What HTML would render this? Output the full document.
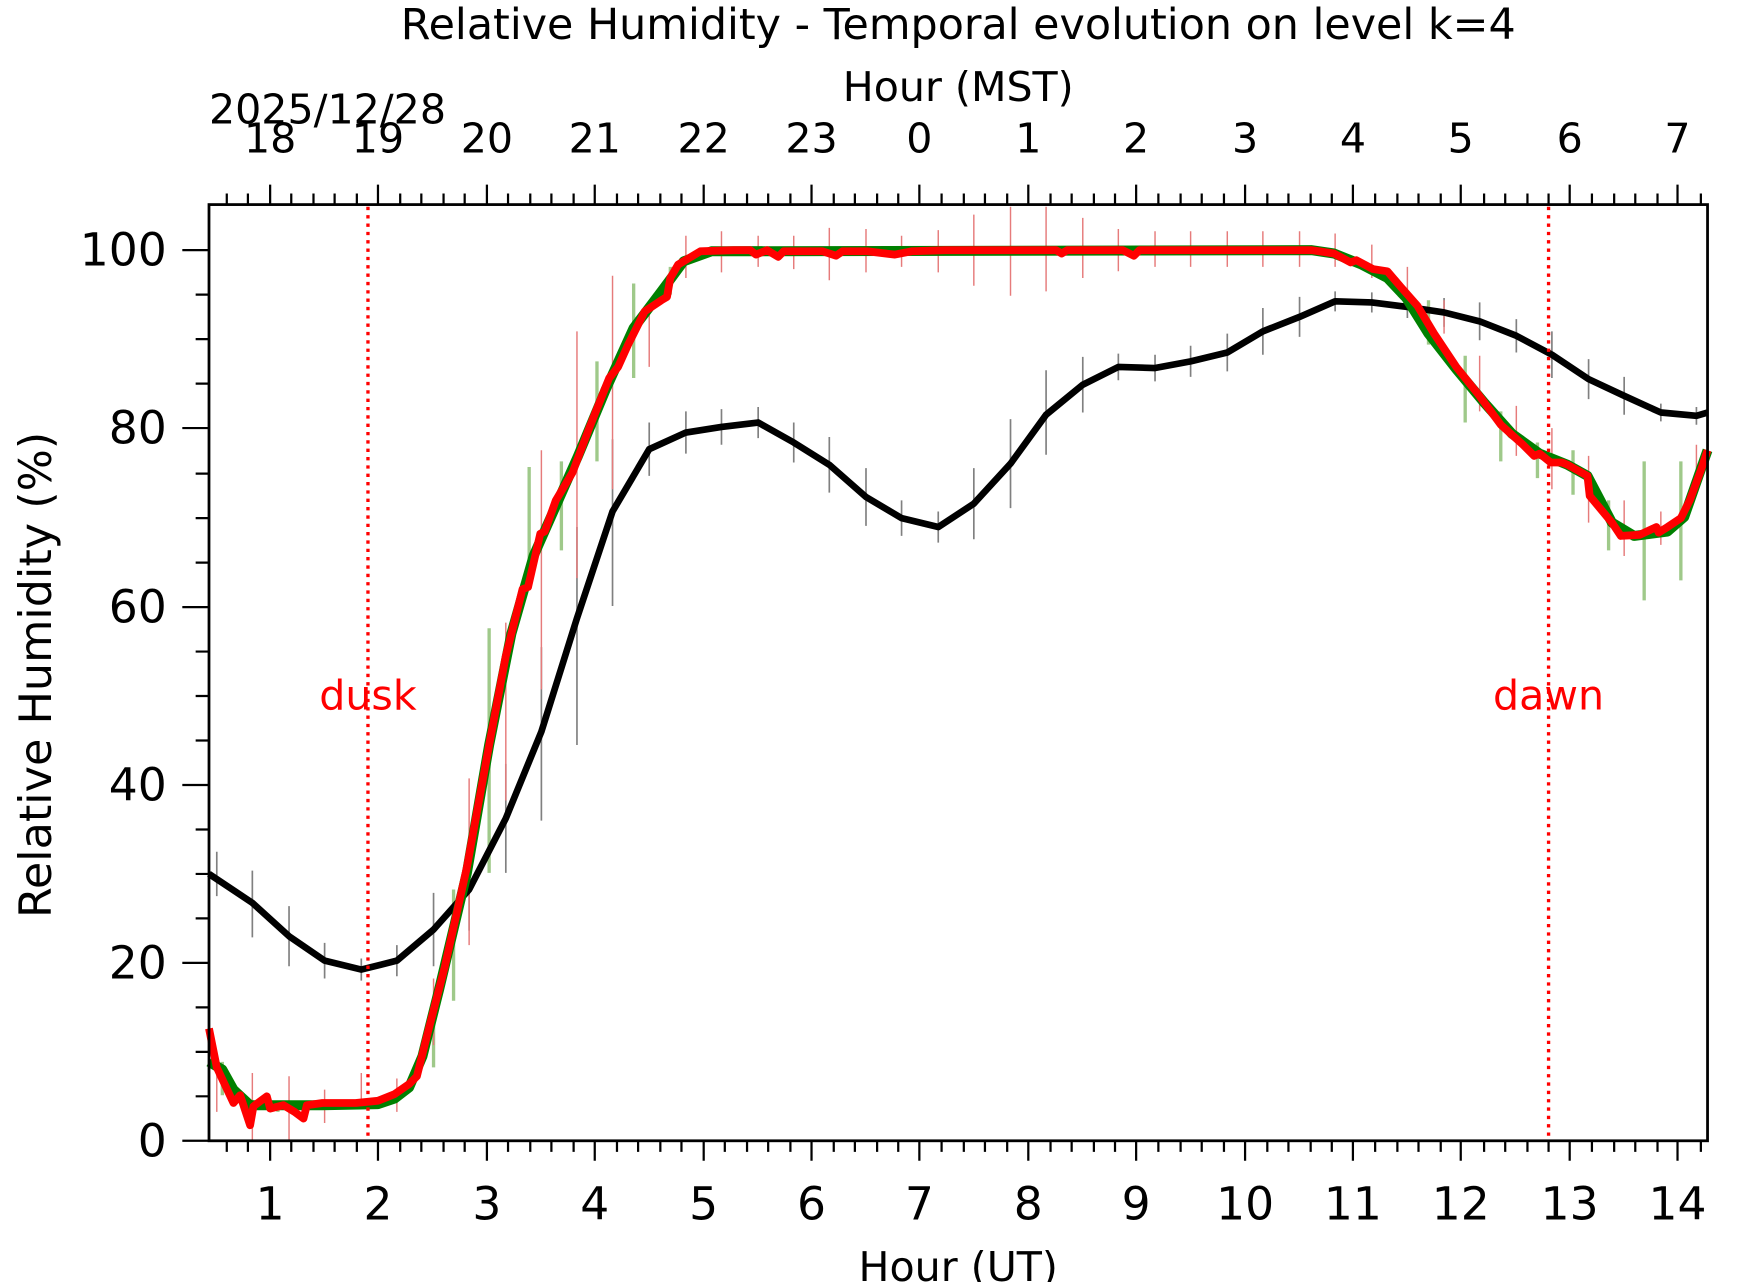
<!DOCTYPE html>
<html><head><meta charset="utf-8"><style>
html,body{margin:0;padding:0;background:#fff;}
svg{display:block;}
text{font-family:"DejaVu Sans","Liberation Sans",sans-serif;}
</style></head><body>
<svg width="1742" height="1282" viewBox="0 0 1567 1153" preserveAspectRatio="none" xmlns="http://www.w3.org/2000/svg">
<rect width="1567" height="1153" fill="#fff"/>
<g fill="#000" text-anchor="middle">
<text x="862" y="35" font-size="38.5">Relative Humidity - Temporal evolution on level k=4</text>
<text x="862" y="91" font-size="37">Hour (MST)</text>
<text x="188" y="111" text-anchor="start" font-size="37">2025/12/28</text>
</g>
<g stroke="#808080" stroke-width="1.5">
<path d="M195 766V806M227 783V843M260 815V869M292 848V880M325 862V882M357 850V878M390 803V869M422 763V837M455 687V785M487 582V738M519 474V670M551 395V545M584 380V428M617 370V408M649 368V400M682 366V394M714 380V416M746 393V443M779 421V473M811 450V482M844 460V488M876 421V485M909 377V457M941 333V409M974 321V371M1006 318V342M1039 319V343M1071 311V339M1104 300V334M1136 277V319M1169 267V303M1201 262V280M1234 263V281M1266 266V286M1299 268V294M1331 272V306M1364 287V317M1396 298V340M1429 323V359M1461 339V373M1494 363V379M1526 366V382"/>
</g>
<g stroke="#9fc98a" stroke-width="3">
<path d="M200 955V985M250 990V1000M390 920V960M408 800V900M440 565V785M476 420V510M505 415V495M537 325V415M570 255V340M603 240V265M1285 270V310M1318 320V380M1350 370V415M1383 398V430M1415 405V445M1447 450V495M1479 415V540M1512 415V522"/>
</g>
<g stroke="#e67b7b" stroke-width="1.3">
<path d="M195 965V1000M227 965V1025M260 968V1025M292 980V1010M325 965V992M357 970V1000M390 880V940M422 700V850M455 560V720M487 405V620M519 298V520M551 248V440M584 276V330M617 212V250M649 208V245M682 212V240M714 212V242M746 205V252M779 206V245M811 212V240M844 207V245M876 193V257M909 186V266M941 186V262M974 196V250M1006 206V244M1039 208V240M1071 208V240M1104 208V240M1136 208V240M1169 208V240M1201 210V240M1234 220V250M1266 240V275M1299 270V300M1331 320V370M1364 365V410M1396 385V440M1429 410V470M1461 450V500M1494 460V490M1526 400V440"/>
</g>
<polyline fill="none" stroke="#000" stroke-width="6" stroke-linejoin="round" points="188,786 227,812 260,842 292,864 325,872 357,864 390,836 422,800 455,736 487,658 519,556 551,460 584,404 617,389 649,384 682,380 714,398 746,418 779,447 811,466 844,474 876,453 909,417 941,373 974,346 1006,330 1039,331 1071,325 1104,317 1136,298 1169,285 1201,271 1234,272 1266,276 1299,281 1331,289 1364,302 1396,319 1429,341 1461,356 1494,371 1526,374 1536,371"/>
<polyline fill="none" stroke="#008000" stroke-width="9" stroke-linejoin="round" points="188,955 200,962 210,980 225,994 290,994 340,993 355,988 368,978 380,950 395,890 420,785 440,670 460,570 480,500 500,455 520,410 545,350 570,295 595,262 615,235 640,226 1180,225 1200,228 1225,238 1248,250 1265,268 1285,300 1310,332 1335,362 1360,390 1385,408 1410,418 1428,428 1450,470 1470,482 1500,478 1515,465 1536,405"/>
<polyline fill="none" stroke="#ff0000" stroke-width="7" stroke-linejoin="round" points="188,925 195,960 210,992 216,985 225,1012 228,995 240,986 243,997 255,994 265,1000 273,1006 276,994 290,992 320,992 340,990 355,984 368,975 375,968 385,928 400,870 420,780 440,670 455,590 470,530 475,528 486,480 490,478 500,450 515,425 530,385 548,340 556,330 565,310 580,280 595,270 600,267 603,250 610,238 620,232 630,226 660,225 675,225 680,229 690,225 700,231 705,226 740,226 752,230 758,226 780,226 805,229 820,226 850,225 950,225 955,228 960,225 1010,225 1020,230 1025,225 1180,225 1200,228 1215,236 1220,234 1235,242 1248,244 1260,258 1275,275 1290,300 1310,330 1330,355 1350,382 1370,400 1380,410 1385,408 1395,416 1405,416 1410,418 1428,428 1430,446 1450,470 1458,482 1475,481 1490,474 1492,479 1500,474 1512,466 1520,450 1530,423 1536,405"/>
<g stroke="#ff0000" stroke-width="3" stroke-dasharray="3,4.5">
<line x1="331" y1="186" x2="331" y2="1026"/>
<line x1="1393" y1="186" x2="1393" y2="1026"/>
</g>
<g fill="#ff0000" font-size="37" text-anchor="middle">
<text x="331" y="638">dusk</text>
<text x="1393" y="638">dawn</text>
</g>
<rect x="188" y="184" width="1348" height="842" fill="none" stroke="#000" stroke-width="2.5"/>
<g stroke="#000" stroke-width="2">
<path d="M204 1026v10M223 1026v10M262 1026v10M282 1026v10M301 1026v10M321 1026v10M360 1026v10M379 1026v10M399 1026v10M418 1026v10M457 1026v10M477 1026v10M496 1026v10M516 1026v10M555 1026v10M574 1026v10M594 1026v10M613 1026v10M652 1026v10M672 1026v10M691 1026v10M711 1026v10M750 1026v10M769 1026v10M789 1026v10M808 1026v10M847 1026v10M867 1026v10M886 1026v10M906 1026v10M945 1026v10M964 1026v10M984 1026v10M1003 1026v10M1042 1026v10M1062 1026v10M1081 1026v10M1101 1026v10M1140 1026v10M1159 1026v10M1179 1026v10M1198 1026v10M1237 1026v10M1257 1026v10M1276 1026v10M1296 1026v10M1335 1026v10M1354 1026v10M1374 1026v10M1393 1026v10M1432 1026v10M1452 1026v10M1471 1026v10M1491 1026v10M1530 1026v10"/>
<path d="M243 1026v18M340 1026v18M438 1026v18M535 1026v18M633 1026v18M730 1026v18M827 1026v18M925 1026v18M1022 1026v18M1120 1026v18M1217 1026v18M1314 1026v18M1412 1026v18M1509 1026v18"/>
<path d="M204 184v-10M223 184v-10M262 184v-10M282 184v-10M301 184v-10M321 184v-10M360 184v-10M379 184v-10M399 184v-10M418 184v-10M457 184v-10M477 184v-10M496 184v-10M516 184v-10M555 184v-10M574 184v-10M594 184v-10M613 184v-10M652 184v-10M672 184v-10M691 184v-10M711 184v-10M750 184v-10M769 184v-10M789 184v-10M808 184v-10M847 184v-10M867 184v-10M886 184v-10M906 184v-10M945 184v-10M964 184v-10M984 184v-10M1003 184v-10M1042 184v-10M1062 184v-10M1081 184v-10M1101 184v-10M1140 184v-10M1159 184v-10M1179 184v-10M1198 184v-10M1237 184v-10M1257 184v-10M1276 184v-10M1296 184v-10M1335 184v-10M1354 184v-10M1374 184v-10M1393 184v-10M1432 184v-10M1452 184v-10M1471 184v-10M1491 184v-10M1530 184v-10"/>
<path d="M243 184v-18M340 184v-18M438 184v-18M535 184v-18M633 184v-18M730 184v-18M827 184v-18M925 184v-18M1022 184v-18M1120 184v-18M1217 184v-18M1314 184v-18M1412 184v-18M1509 184v-18"/>
<path d="M188 1026h-24M188 866h-24M188 706h-24M188 546h-24M188 385h-24M188 225h-24"/>
<path d="M188 986h-12M188 946h-12M188 906h-12M188 826h-12M188 786h-12M188 746h-12M188 666h-12M188 626h-12M188 586h-12M188 506h-12M188 466h-12M188 426h-12M188 345h-12M188 305h-12M188 265h-12"/>
</g>
<g font-size="41" fill="#000" text-anchor="middle">
<text x="243" y="1097">1</text><text x="340" y="1097">2</text><text x="438" y="1097">3</text><text x="535" y="1097">4</text><text x="633" y="1097">5</text><text x="730" y="1097">6</text><text x="827" y="1097">7</text><text x="925" y="1097">8</text><text x="1022" y="1097">9</text><text x="1120" y="1097">10</text><text x="1217" y="1097">11</text><text x="1314" y="1097">12</text><text x="1412" y="1097">13</text><text x="1509" y="1097">14</text>
<text x="243" y="137" font-size="37">18</text><text x="340" y="137" font-size="37">19</text><text x="438" y="137" font-size="37">20</text><text x="535" y="137" font-size="37">21</text><text x="633" y="137" font-size="37">22</text><text x="730" y="137" font-size="37">23</text><text x="827" y="137" font-size="37">0</text><text x="925" y="137" font-size="37">1</text><text x="1022" y="137" font-size="37">2</text><text x="1120" y="137" font-size="37">3</text><text x="1217" y="137" font-size="37">4</text><text x="1314" y="137" font-size="37">5</text><text x="1412" y="137" font-size="37">6</text><text x="1509" y="137" font-size="37">7</text>
<text x="862" y="1152" font-size="37">Hour (UT)</text>
</g>
<g font-size="41" fill="#000" text-anchor="end">
<text x="150" y="1040">0</text><text x="150" y="880">20</text><text x="150" y="720">40</text><text x="150" y="560">60</text><text x="150" y="399">80</text><text x="150" y="239">100</text>
</g>
<text x="0" y="0" font-size="40" text-anchor="middle" transform="translate(46,607) rotate(-90)">Relative Humidity (%)</text>
</svg>
</body></html>
